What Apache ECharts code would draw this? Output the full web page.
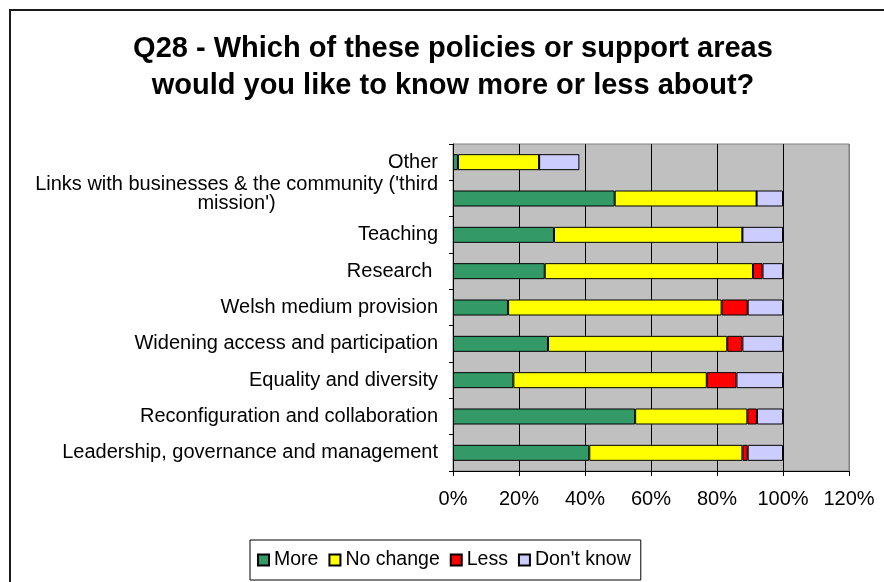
<!DOCTYPE html>
<html>
<head>
<meta charset="utf-8">
<title>Q28 - Policies or support areas</title>
<script src="https://cdn.jsdelivr.net/npm/echarts@6/dist/echarts.min.js"></script>
<style>
  html, body { margin: 0; padding: 0; background: #fff; }
  #chart { width: 884px; height: 582px; }
</style>
</head>
<body>
<div id="chart"></div>
<script>
// Categories listed bottom to top (ECharts category y axis order)
const categories = [
  'Leadership, governance and management',
  'Reconfiguration and collaboration',
  'Equality and diversity',
  'Widening access and participation',
  'Welsh medium provision',
  'Research ',
  'Teaching',
  "Links with businesses & the community ('third\nmission')",
  'Other'
];

// Share of respondents (%) per answer
const moreValues      = [41.3, 55.2, 18.3, 28.8, 16.7, 27.8, 30.6, 49.0, 1.5];
const noChangeValues  = [46.4, 34.0, 58.6, 54.3, 64.7, 63.1, 57.1, 43.0, 24.6];
const lessValues      = [1.6, 2.9, 9.0, 4.6, 7.9, 2.9, 0, 0, 0];
const dontKnowValues  = [10.7, 7.9, 14.1, 12.3, 10.7, 6.2, 12.3, 8.0, 12.2];

const seriesNames = ['More', 'No change', 'Less', "Don't know"];
const seriesColors = ['#339966', '#FFFF00', '#FF0000', '#CCCCFF'];
const seriesValues = [moreValues, noChangeValues, lessValues, dontKnowValues];

const xTicks = { min: 0, max: 120, interval: 20 };

const FONT = '"Liberation Sans", Arial, sans-serif';
const LABEL_SIZE = 20;

const chart = echarts.init(document.getElementById('chart'), null, { renderer: 'canvas' });

const option = {
  animation: false,
  backgroundColor: '#fff',
  textStyle: { fontFamily: FONT, color: '#000' },
  graphic: [{
    type: 'rect',
    shape: { x: 10, y: 10, width: 1000, height: 1000 },
    style: { fill: 'none', stroke: '#1a1a1a', lineWidth: 2 },
    silent: true,
    z: 0
  }],
  title: {
    text: 'Q28 - Which of these policies or support areas\nwould you like to know more or less about?',
    left: 448,
    top: 25,
    textAlign: 'center',
    textStyle: {
      fontFamily: FONT,
      fontSize: 29,
      fontWeight: 'bold',
      lineHeight: 37,
      color: '#000'
    }
  },
  legend: {
    data: seriesNames,
    left: 250,
    top: 540,
    orient: 'horizontal',
    padding: [10, 10, 10, 7],
    itemWidth: 11,
    itemHeight: 11,
    itemGap: 10,
    icon: 'rect',
    borderColor: '#000',
    borderWidth: 1,
    textStyle: { fontFamily: FONT, fontSize: 19.5, color: '#000' }
  },
  grid: {
    left: 453,
    right: 35,
    top: 144,
    bottom: 111,
    show: true,
    backgroundColor: '#C0C0C0',
    borderColor: '#808080',
    borderWidth: 1
  },
  xAxis: {
    type: 'value',
    min: xTicks.min,
    max: xTicks.max,
    interval: xTicks.interval,
    axisLine: { show: true, lineStyle: { color: '#000', width: 1 } },
    axisTick: { show: true, length: 5, lineStyle: { color: '#000' } },
    axisLabel: {
      formatter: '{value}%',
      fontFamily: FONT,
      fontSize: LABEL_SIZE,
      color: '#000',
      margin: 18
    },
    splitLine: {
      show: true,
      lineStyle: { color: ['#000', '#000', '#000', '#000', '#000', '#000', '#808080'], width: 1 }
    }
  },
  yAxis: {
    type: 'category',
    data: categories,
    axisLine: { show: true, lineStyle: { color: '#000', width: 1 } },
    axisTick: { show: true, length: 4, inside: false, lineStyle: { color: '#000' } },
    axisLabel: {
      fontFamily: FONT,
      fontSize: LABEL_SIZE,
      color: '#000',
      margin: 15,
      formatter: function (value) {
        if (value.indexOf('\n') >= 0) {
          // wrapped label: first line right-aligned, second line centred,
          // plus a thin spacer line that lifts the pair slightly
          const parts = value.split('\n');
          return '{a|' + parts[0] + '}\n{b|' + parts[1] + '}\n{c| }';
        }
        return value;
      },
      rich: {
        a: { fontFamily: FONT, fontSize: LABEL_SIZE, color: '#000', align: 'right', lineHeight: 19 },
        b: { fontFamily: FONT, fontSize: LABEL_SIZE, color: '#000', align: 'center', lineHeight: 19 },
        c: { fontFamily: FONT, fontSize: 1, lineHeight: 10 }
      }
    },
    splitLine: { show: false }
  },
  series: seriesNames.map(function (name, i) {
    return {
      name: name,
      type: 'bar',
      stack: 'total',
      barWidth: 16,
      data: seriesValues[i],
      itemStyle: { color: seriesColors[i], borderColor: '#000', borderWidth: 1 }
    };
  })
};

chart.setOption(option);
</script>
</body>
</html>
